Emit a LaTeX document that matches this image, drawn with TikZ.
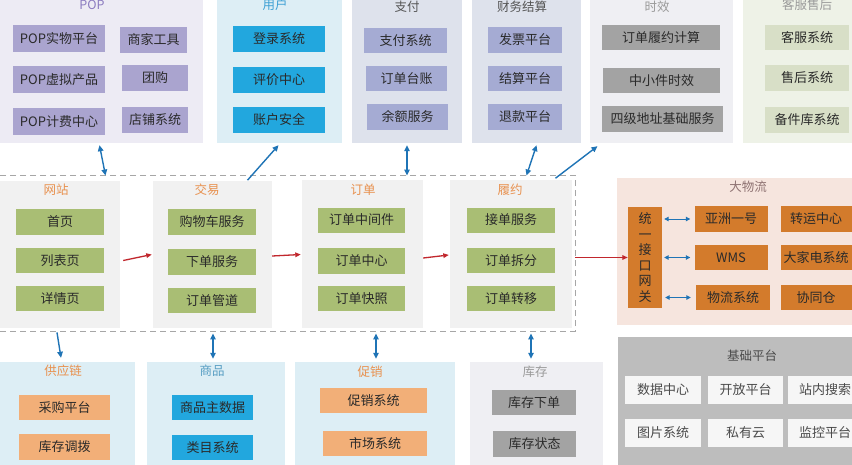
\documentclass[tikz,border=0pt]{standalone}
\usepackage{fontspec}
\setmainfont{Noto Sans CJK SC}
\usetikzlibrary{arrows.meta,calc}
\definecolor{PopFill}{HTML}{EDEBF4}
\definecolor{PopBox}{HTML}{AAA4CF}
\definecolor{PopTtl}{HTML}{8C7CC0}
\definecolor{UsrFill}{HTML}{DDEEF5}
\definecolor{UsrBox}{HTML}{22A7DE}
\definecolor{UsrTtl}{HTML}{3C9FD4}
\definecolor{PayFill}{HTML}{DEE2EC}
\definecolor{PayBox}{HTML}{A5ABD3}
\definecolor{TimFill}{HTML}{EFEFF3}
\definecolor{TimBox}{HTML}{A3A3A3}
\definecolor{SvcFill}{HTML}{EEF2E7}
\definecolor{SvcBox}{HTML}{D8DFC7}
\definecolor{MidFill}{HTML}{F1F1F1}
\definecolor{GrnBox}{HTML}{A9BE74}
\definecolor{MidTtl}{HTML}{E8914F}
\definecolor{LogFill}{HTML}{F6E5DE}
\definecolor{BrnBox}{HTML}{D37B2C}
\definecolor{LogTtl}{HTML}{8E7272}
\definecolor{OrgBox}{HTML}{F2AF78}
\definecolor{BasFill}{HTML}{BDBDBD}
\definecolor{BasBox}{HTML}{F6F6F6}
\definecolor{GryTtl}{HTML}{9A9A9A}
\definecolor{TxtDark}{HTML}{2A2A2A}
\definecolor{DashGray}{HTML}{A6A6A6}
\definecolor{ArrBlue}{HTML}{1F74B6}
\definecolor{ArrRed}{HTML}{C1272D}
\tikzset{
  every picture/.append style={font=\fontsize{12.5}{15}\selectfont},
  blk/.style={rectangle, inner sep=0pt, minimum height=26pt, text=TxtDark,
              font=\fontsize{13}{15}\selectfont},
  pop/.style={blk, fill=PopBox},
  usr/.style={blk, fill=UsrBox},
  pay/.style={blk, fill=PayBox},
  tim/.style={blk, fill=TimBox},
  svc/.style={blk, fill=SvcBox},
  grn/.style={blk, fill=GrnBox},
  brn/.style={blk, fill=BrnBox},
  org/.style={blk, fill=OrgBox},
  gry/.style={blk, fill=TimBox},
  bas/.style={blk, fill=BasBox, minimum height=28pt, text=TxtDark!85},
  grp/.style={rectangle, fill=#1, inner sep=0pt},
  ttl/.style={font=\fontsize{12.5}{15}\selectfont, inner sep=0pt},
  dashbox/.style={rectangle, draw=DashGray, dash pattern=on 6pt off 4pt,
                  line width=0.9pt, inner sep=0pt},
  blarr/.style={-{Triangle[length=6pt,width=5.5pt]}, line width=1.4pt, draw=ArrBlue},
  biarr/.style={{Triangle[length=6pt,width=5.5pt]}-{Triangle[length=6pt,width=5.5pt]},
                line width=1.4pt, draw=ArrBlue},
  biarrS/.style={{Triangle[length=4.5pt,width=4.5pt]}-{Triangle[length=4.5pt,width=4.5pt]},
                 line width=1pt, draw=ArrBlue},
  redarr/.style={-{Triangle[length=5.5pt,width=4.5pt]}, line width=1.3pt, draw=ArrRed},
}

\begin{document}
\begin{tikzpicture}[x=1pt,y=-1pt]
\path[use as bounding box, fill=white] (0,0) rectangle (852,464);

% ---------------- top row ----------------------------------------------------------
\node[grp=PopFill, minimum width=203pt, minimum height=153pt] (pop) at (101.5,66.5) {};
\node[grp=UsrFill, minimum width=125pt, minimum height=153pt] (user) at (279.5,66.5) {};
\node[grp=PayFill, minimum width=110pt, minimum height=153pt] (pay) at (407,66.5) {};
\node[grp=PayFill, minimum width=109pt, minimum height=153pt] (fin) at (526.5,66.5) {};
\node[grp=TimFill, minimum width=143pt, minimum height=153pt] (time) at (661.5,66.5) {};
\node[grp=SvcFill, minimum width=117pt, minimum height=153pt] (svc) at (801.5,66.5) {};

\node[ttl, text=PopTtl] (popT) at (92,5) {POP};
\node[ttl, text=UsrTtl] (userT) at (275,5) {用户};
\node[ttl, text=TxtDark!80] (payT) at (407,7) {支付};
\node[ttl, text=TxtDark!80] (finT) at (522,7) {财务结算};
\node[ttl, text=GryTtl] (timeT) at (657,7) {时效};
\node[ttl, text=GryTtl] (svcT) at (807,5) {客服售后};

\node[pop, minimum width=92pt, minimum height=27pt] (p1) at (59,38.5) {POP实物平台};
\node[pop, minimum width=67pt] (p2) at (153.5,39.5) {商家工具};
\node[pop, minimum width=92pt, minimum height=27pt] (p3) at (59,79.5) {POP虚拟产品};
\node[pop, minimum width=66pt] (p4) at (155,78) {团购};
\node[pop, minimum width=92pt, minimum height=27pt] (p5) at (59,121.5) {POP计费中心};
\node[pop, minimum width=66pt] (p6) at (155,120) {店铺系统};

\node[usr, minimum width=92pt] (u1) at (279,39) {登录系统};
\node[usr, minimum width=92pt] (u2) at (279,79.5) {评价中心};
\node[usr, minimum width=92pt] (u3) at (279,120) {账户安全};

\node[pay, minimum width=83pt, minimum height=25pt] (y1) at (405.5,40.5) {支付系统};
\node[pay, minimum width=81pt, minimum height=25pt] (y2) at (406.5,78.5) {订单台账};
\node[pay, minimum width=81pt, minimum height=26pt] (y3) at (407.5,117) {余额服务};

\node[pay, minimum width=74pt] (f1) at (525,40) {发票平台};
\node[pay, minimum width=74pt, minimum height=25pt] (f2) at (525,78.5) {结算平台};
\node[pay, minimum width=74pt] (f3) at (525,117) {退款平台};

\node[tim, minimum width=118pt, minimum height=25pt] (t1) at (661,37.5) {订单履约计算};
\node[tim, minimum width=117pt, minimum height=25pt] (t2) at (661.5,80.5) {中小件时效};
\node[tim, minimum width=121pt] (t3) at (662.5,119) {四级地址基础服务};

\node[svc, minimum width=84pt, minimum height=25pt] (s1) at (807,37.5) {客服系统};
\node[svc, minimum width=84pt] (s2) at (807,78) {售后系统};
\node[svc, minimum width=84pt] (s3) at (807,120) {备件库系统};

% ---------------- middle row -------------------------------------------------------
\node[dashbox, minimum width=585pt, minimum height=156pt] (core) at (282.5,253) {};

\node[grp=MidFill, minimum width=130pt, minimum height=147pt] (web) at (55,254.5) {};
\node[grp=MidFill, minimum width=119pt, minimum height=147pt] (trade) at (212.5,254.5) {};
\node[grp=MidFill, minimum width=121pt, minimum height=148pt] (order) at (362.5,254) {};
\node[grp=MidFill, minimum width=122pt, minimum height=148pt] (ful) at (511,254) {};

\node[ttl, text=MidTtl] (webT) at (56,190) {网站};
\node[ttl, text=MidTtl] (tradeT) at (207,190) {交易};
\node[ttl, text=MidTtl] (orderT) at (363,190) {订单};
\node[ttl, text=MidTtl] (fulT) at (510,190) {履约};

\node[grn, minimum width=88pt] (w1) at (60,222) {首页};
\node[grn, minimum width=88pt, minimum height=25pt] (w2) at (60,260.5) {列表页};
\node[grn, minimum width=88pt, minimum height=25pt] (w3) at (60,298.5) {详情页};

\node[grn, minimum width=88pt] (d1) at (212,222) {购物车服务};
\node[grn, minimum width=88pt] (d2) at (212,262) {下单服务};
\node[grn, minimum width=88pt, minimum height=25pt] (d3) at (212,300.5) {订单管道};

\node[grn, minimum width=87pt, minimum height=25pt] (o1) at (361.5,220) {订单中间件};
\node[grn, minimum width=87pt] (o2) at (361.5,261) {订单中心};
\node[grn, minimum width=87pt, minimum height=25pt] (o3) at (361.5,298.5) {订单快照};

\node[grn, minimum width=88pt, minimum height=25pt] (l1) at (511,220) {接单服务};
\node[grn, minimum width=88pt, minimum height=25pt] (l2) at (511,260.5) {订单拆分};
\node[grn, minimum width=88pt, minimum height=25pt] (l3) at (511,298.5) {订单转移};

% ---------------- logistics --------------------------------------------------------
\node[grp=LogFill, minimum width=243pt, minimum height=147pt] (logi) at (738.5,251.5) {};
\node[ttl, text=LogTtl] (logiT) at (748,187) {大物流};
\node[brn, minimum width=34pt, minimum height=101pt, align=center,
      font=\fontsize{13}{15.5}\selectfont] (gate) at (645,257.5) {统\\一\\接\\口\\网\\关};
\node[brn, minimum width=73pt] (g1) at (731,219) {亚洲一号};
\node[brn, minimum width=71pt] (g2) at (816,219) {转运中心};
\node[brn, minimum width=73pt, minimum height=25pt] (g3) at (731,257.5) {WMS};
\node[brn, minimum width=71pt, minimum height=25pt] (g4) at (816,257.5) {大家电系统};
\node[brn, minimum width=74pt, minimum height=25pt] (g5) at (733,297.5) {物流系统};
\node[brn, minimum width=71pt, minimum height=25pt] (g6) at (816,297.5) {协同仓};

% ---------------- bottom row -------------------------------------------------------
\node[grp=UsrFill, minimum width=140pt, minimum height=108pt] (sup) at (65,416) {};
\node[grp=UsrFill, minimum width=138pt, minimum height=108pt] (goods) at (216,416) {};
\node[grp=UsrFill, minimum width=160pt, minimum height=108pt] (promo) at (375,416) {};
\node[grp=TimFill, minimum width=133pt, minimum height=108pt] (stock) at (536.5,416) {};
\node[grp=BasFill, minimum width=242pt, minimum height=133pt] (base) at (739,403.5) {};

\node[ttl, text=MidTtl] (supT) at (63,371) {供应链};
\node[ttl, text=UsrTtl!70!GryTtl] (goodsT) at (212,371) {商品};
\node[ttl, text=MidTtl] (promoT) at (370,372) {促销};
\node[ttl, text=GryTtl] (stockT) at (535,372) {库存};
\node[ttl, text=TxtDark!85] (baseT) at (752,356) {基础平台};

\node[org, minimum width=91pt, minimum height=25pt] (c1) at (64.5,407.5) {采购平台};
\node[org, minimum width=91pt] (c2) at (64.5,447) {库存调拨};

\node[usr, minimum width=81pt, minimum height=25pt] (m1) at (212.5,407.5) {商品主数据};
\node[usr, minimum width=81pt, minimum height=25pt] (m2) at (212.5,447.5) {类目系统};

\node[org, minimum width=107pt, minimum height=25pt] (r1) at (373.5,400.5) {促销系统};
\node[org, minimum width=104pt, minimum height=25pt] (r2) at (375,443.5) {市场系统};

\node[gry, minimum width=84pt, minimum height=25pt] (k1) at (534,402.5) {库存下单};
\node[gry, minimum width=83pt] (k2) at (534.5,444) {库存状态};

\node[bas, minimum width=76pt] (b1) at (663,390) {数据中心};
\node[bas, minimum width=75pt] (b2) at (745.5,390) {开放平台};
\node[bas, minimum width=74pt] (b3) at (825,390) {站内搜索};
\node[bas, minimum width=76pt] (b4) at (663,433) {图片系统};
\node[bas, minimum width=75pt] (b5) at (745.5,433) {私有云};
\node[bas, minimum width=74pt] (b6) at (825,433) {监控平台};

% ---------------- connectors -------------------------------------------------------
\draw[redarr] ($(web.east)+(3,6)$) -- ($(trade.west)+(-1,0)$);
\draw[redarr] ($(trade.east)+(0,1.5)$) -- ($(order.west)+(-1,0.5)$);
\draw[redarr] ($(order.east)+(0,4)$) -- ($(ful.west)+(-1,1)$);
\draw[redarr] (core.east |- gate.west) -- (gate.west);

\draw[biarr] ($(pop.south)+(-2,2)$) -- ($(pop.south |- core.north)+(4,1)$);
\draw[blarr] ($(user.south)+(-32,37)$) -- ($(user.south)+(-1,2)$);
\draw[biarr] ($(pay.south)+(0,2)$) -- ($(pay.south |- core.north)+(0,1)$);
\draw[biarr] ($(fin.south)+(10,2)$) -- ($(fin.south |- core.north)+(0,1)$);
\draw[blarr] ($(time.south)+(-106,35)$) -- ($(time.south)+(-64,3)$);

\draw[blarr] ($(sup.north |- core.south)+(-8,1)$) -- ($(sup.north)+(-4,-4)$);
\draw[biarr] ($(goods.north |- core.south)+(-3,2)$) -- ($(goods.north)+(-3,-3)$);
\draw[biarr] ($(promo.north |- core.south)+(1,2)$) -- ($(promo.north)+(1,-3)$);
\draw[biarr] ($(stock.north |- core.south)+(-5.5,2)$) -- ($(stock.north)+(-5.5,-3)$);

\draw[biarrS] ($(gate.east |- g1)+(2,0)$) -- ($(g1.west)+(-4,0)$);
\draw[biarrS] ($(gate.east |- g3)+(2,0)$) -- ($(g3.west)+(-4,0)$);
\draw[biarrS] ($(gate.east |- g5)+(3,0)$) -- ($(g5.west)+(-5,0)$);

\end{tikzpicture}
\end{document}
